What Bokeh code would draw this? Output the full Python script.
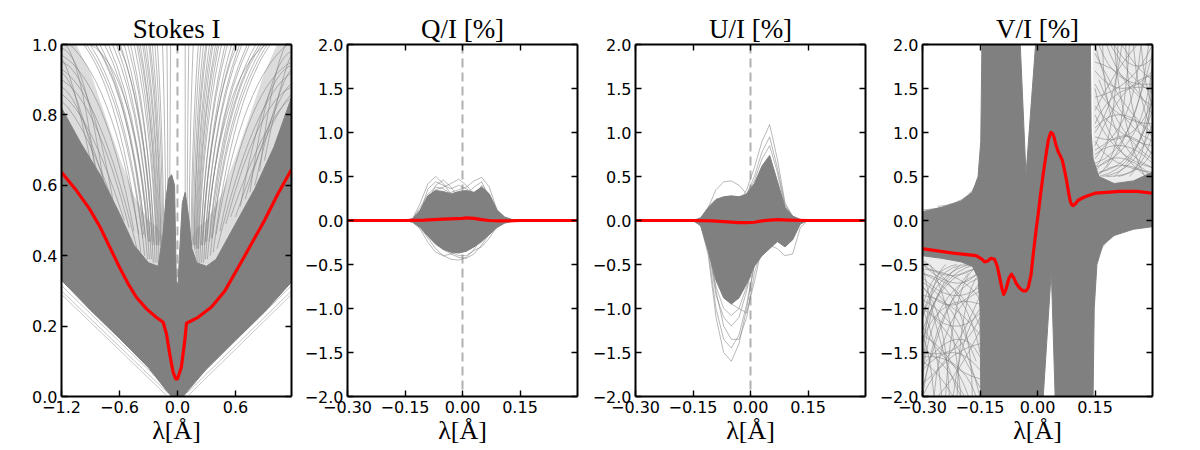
from bokeh.plotting import figure
from bokeh.layouts import row
from bokeh.models import FixedTicker, LinearAxis, CustomJSTickFormatter, Range1d, Span
from bokeh.embed import file_html
from bokeh.resources import INLINE

# ---------------- data ----------------
titles = ["Stokes I", "Q/I [%]", "U/I [%]", "V/I [%]"]
xlabel = "λ[Å]"

i_xticks = [-1.2, -0.6, 0.0, 0.6]
i_yticks = [0.0, 0.2, 0.4, 0.6, 0.8, 1.0]
p_xticks = [-0.30, -0.15, 0.0, 0.15]
p_yticks = [-2.0, -1.5, -1.0, -0.5, 0.0, 0.5, 1.0, 1.5, 2.0]

# Stokes I : mean profile (red)
i_red_x = [-1.2, -1.045, -0.91, -0.80, -0.70, -0.60, -0.51, -0.425, -0.32, -0.22, -0.148, -0.114,
           -0.08, -0.045, -0.018, 0.0, 0.04, 0.076, 0.093, 0.214, 0.352, 0.49, 0.63, 0.766,
           0.90, 1.04, 1.18]
i_red_y = [0.637, 0.585, 0.533, 0.481, 0.424, 0.367, 0.32, 0.282, 0.249, 0.225, 0.211, 0.178,
           0.121, 0.069, 0.05, 0.05, 0.083, 0.159, 0.208, 0.225, 0.254, 0.30, 0.367, 0.434,
           0.50, 0.576, 0.645]
# Stokes I : dense envelope of all profiles
i_up_x = [-1.2, -1.0, -0.8, -0.6, -0.45, -0.3, -0.2, -0.15, -0.12, -0.09, -0.06, -0.03, -0.012,
          0.005, 0.02, 0.05, 0.08, 0.12, 0.15, 0.2, 0.3, 0.4, 0.6, 0.8, 1.0, 1.18]
i_up_y = [0.82, 0.72, 0.63, 0.52, 0.43, 0.38, 0.37, 0.46, 0.56, 0.62, 0.63, 0.60, 0.33,
          0.31, 0.40, 0.55, 0.58, 0.50, 0.42, 0.38, 0.37, 0.39, 0.49, 0.59, 0.71, 0.85]
i_lo_x = [-1.2, -0.9, -0.6, -0.3, -0.114, -0.06, 0.0, 0.06, 0.11, 0.3, 0.6, 0.9, 1.18]
i_lo_y = [0.33, 0.245, 0.165, 0.082, 0.017, 0.0, 0.0, 0.0, 0.017, 0.078, 0.16, 0.24, 0.325]
# Stokes I : zones where the faint profiles crowd (left, right)
i_halo_x = [[-1.2, -1.2, -1.05, -0.9, -0.75, -0.6, -0.45, -0.3, -0.2, -0.15, -0.2, -0.3, -0.45, -0.6, -0.8, -1.0],
            [1.18, 1.18, 1.03, 0.9, 0.75, 0.6, 0.45, 0.3, 0.2, 0.15, 0.2, 0.3, 0.45, 0.6, 0.8, 1.0]]
i_halo_y = [[0.82, 1.0, 1.0, 0.92, 0.8, 0.68, 0.57, 0.5, 0.48, 0.45, 0.37, 0.38, 0.43, 0.52, 0.63, 0.72],
            [0.85, 1.0, 1.0, 0.92, 0.8, 0.68, 0.57, 0.5, 0.48, 0.45, 0.38, 0.37, 0.39, 0.49, 0.59, 0.71]]
# Stokes I : individual faint profile wings (start, end, control point)
i_fan_x0 = [-0.45, -0.40, -0.36, -0.33, -0.30, -0.28, -0.26, -0.24, -0.22, -0.20, -0.18, -0.16,
            -0.14, -0.12, -0.10, -0.08, -0.50, -0.55, -0.25, -0.21, -0.19, -0.29, -0.35, -0.17,
            -0.42, -0.38, -0.34, -0.31, -0.29, -0.27, -0.25, -0.23, -0.21, -0.19, -0.17, -0.15,
            -0.60, -0.70, -0.80, -0.90, -0.65, -0.75, -0.85,
            0.44, 0.40, 0.36, 0.33, 0.30, 0.28, 0.26, 0.24, 0.22, 0.20, 0.18, 0.16,
            0.14, 0.12, 0.10, 0.08, 0.50, 0.55, 0.25, 0.21, 0.19, 0.29, 0.35, 0.17,
            0.41, 0.37, 0.34, 0.31, 0.29, 0.27, 0.25, 0.23, 0.21, 0.19, 0.17, 0.15,
            0.60, 0.70, 0.80, 0.90, 0.65, 0.75, 0.85]
i_fan_y0 = [0.47, 0.46, 0.45, 0.45, 0.44, 0.44, 0.43, 0.43, 0.43, 0.43, 0.43, 0.43,
            0.45, 0.50, 0.55, 0.60, 0.48, 0.50, 0.44, 0.43, 0.44, 0.44, 0.46, 0.44,
            0.42, 0.41, 0.40, 0.39, 0.39, 0.39, 0.38, 0.38, 0.38, 0.38, 0.40, 0.42,
            0.50, 0.55, 0.60, 0.67, 0.53, 0.58, 0.64,
            0.47, 0.46, 0.45, 0.44, 0.44, 0.43, 0.43, 0.43, 0.42, 0.42, 0.42, 0.43,
            0.45, 0.48, 0.52, 0.56, 0.49, 0.51, 0.43, 0.42, 0.43, 0.44, 0.45, 0.43,
            0.42, 0.41, 0.40, 0.39, 0.39, 0.38, 0.38, 0.38, 0.38, 0.38, 0.40, 0.42,
            0.51, 0.56, 0.60, 0.67, 0.54, 0.58, 0.64]
i_fan_x1 = [-1.2, -1.2, -1.1, -0.98, -0.86, -0.76, -0.66, -0.57, -0.49, -0.42, -0.35, -0.28,
            -0.22, -0.16, -0.11, -0.07, -1.2, -1.2, -0.70, -0.45, -0.38, -0.90, -1.02, -0.31,
            -1.2, -1.15, -1.05, -0.92, -0.81, -0.71, -0.61, -0.53, -0.46, -0.39, -0.32, -0.25,
            -1.2, -1.2, -1.2, -1.2, -1.2, -1.2, -1.2,
            1.18, 1.18, 1.08, 0.97, 0.85, 0.75, 0.66, 0.57, 0.50, 0.43, 0.36, 0.29,
            0.23, 0.17, 0.12, 0.08, 1.18, 1.18, 0.71, 0.46, 0.39, 0.92, 1.04, 0.32,
            1.18, 1.13, 1.04, 0.93, 0.82, 0.72, 0.62, 0.54, 0.47, 0.40, 0.33, 0.26,
            1.18, 1.18, 1.18, 1.18, 1.18, 1.18, 1.18]
i_fan_y1 = [0.97, 1.02, 1.05, 1.05, 1.05, 1.05, 1.05, 1.05, 1.05, 1.05, 1.05, 1.05,
            1.05, 1.05, 1.05, 1.05, 0.90, 0.86, 1.05, 1.05, 1.05, 1.00, 1.05, 1.05,
            0.93, 1.05, 1.05, 1.05, 1.05, 1.05, 1.05, 1.05, 1.05, 1.05, 1.05, 1.05,
            0.84, 0.88, 0.92, 0.96, 0.95, 0.99, 1.01,
            0.95, 1.01, 1.05, 1.05, 1.05, 1.05, 1.05, 1.05, 1.05, 1.05, 1.05, 1.05,
            1.05, 1.05, 1.05, 1.05, 0.88, 0.85, 1.05, 1.05, 1.05, 1.00, 1.05, 1.05,
            0.92, 1.05, 1.05, 1.05, 1.05, 1.05, 1.05, 1.05, 1.05, 1.05, 1.05, 1.05,
            0.86, 0.89, 0.93, 0.97, 0.94, 0.98, 1.02]
i_fan_cx = [-0.75, -0.68, -0.58, -0.50, -0.44, -0.38, -0.34, -0.30, -0.27, -0.24, -0.21, -0.18,
            -0.155, -0.13, -0.10, -0.075, -0.85, -0.90, -0.36, -0.25, -0.22, -0.45, -0.52, -0.20,
            -0.80, -0.62, -0.52, -0.46, -0.40, -0.36, -0.32, -0.29, -0.25, -0.22, -0.19, -0.16,
            -0.95, -1.00, -1.05, -1.10, -0.90, -0.95, -1.02,
            0.74, 0.67, 0.57, 0.49, 0.43, 0.38, 0.34, 0.30, 0.27, 0.24, 0.21, 0.18,
            0.155, 0.13, 0.105, 0.08, 0.84, 0.90, 0.36, 0.25, 0.22, 0.46, 0.53, 0.20,
            0.79, 0.61, 0.52, 0.45, 0.40, 0.36, 0.32, 0.29, 0.25, 0.22, 0.19, 0.16,
            0.95, 1.00, 1.04, 1.09, 0.90, 0.95, 1.01]
i_fan_cy = [0.90, 0.92, 0.92, 0.90, 0.88, 0.86, 0.84, 0.82, 0.80, 0.80, 0.80, 0.80,
            0.80, 0.80, 0.80, 0.80, 0.85, 0.80, 0.90, 0.85, 0.84, 0.93, 0.95, 0.86,
            0.86, 0.95, 0.90, 0.88, 0.86, 0.85, 0.82, 0.80, 0.80, 0.78, 0.78, 0.78,
            0.78, 0.85, 0.90, 0.93, 0.93, 0.97, 0.99,
            0.89, 0.91, 0.91, 0.89, 0.87, 0.85, 0.83, 0.81, 0.80, 0.80, 0.80, 0.80,
            0.80, 0.80, 0.80, 0.80, 0.84, 0.79, 0.89, 0.84, 0.83, 0.92, 0.94, 0.85,
            0.85, 0.94, 0.90, 0.88, 0.86, 0.84, 0.82, 0.80, 0.79, 0.78, 0.78, 0.78,
            0.79, 0.85, 0.89, 0.93, 0.92, 0.96, 0.99]
# Stokes I : faint lower-wing profiles
i_low_x0 = [-1.2, -1.2, -1.2, 1.18, 1.18, 1.18]
i_low_y0 = [0.29, 0.30, 0.315, 0.29, 0.30, 0.315]
i_low_x1 = [-0.12, -0.10, -0.09, 0.12, 0.10, 0.09]
i_low_y1 = [0.005, 0.01, 0.02, 0.005, 0.01, 0.02]

# common wavelength grid for Q, U profiles
pol_x = [-0.15, -0.13, -0.11, -0.09, -0.07, -0.05, -0.03, -0.01, 0.01, 0.03, 0.05, 0.07,
         0.09, 0.11, 0.13, 0.15]

# Q/I
q_red_x = [-0.3, -0.15, -0.1, -0.05, 0.0, 0.01, 0.03, 0.05, 0.07, 0.1, 0.15, 0.3]
q_red_y = [0.0, 0.0, 0.005, 0.015, 0.025, 0.03, 0.025, 0.01, 0.0, -0.005, 0.0, 0.0]
q_up = [0.0, 0.02, 0.12, 0.28, 0.34, 0.33, 0.30, 0.33, 0.34, 0.32, 0.38, 0.30, 0.12, 0.04, 0.01, 0.0]
q_lo = [0.0, -0.02, -0.08, -0.18, -0.27, -0.33, -0.36, -0.37, -0.35, -0.30, -0.24, -0.16, -0.08, -0.03, -0.01, 0.0]
q_lines = [
    [0, 0.02, 0.20, 0.42, 0.50, 0.42, 0.30, 0.28, 0.25, 0.20, 0.15, 0.08, 0.03, 0.01, 0, 0],
    [0, 0.01, 0.12, 0.28, 0.35, 0.38, 0.42, 0.47, 0.40, 0.30, 0.22, 0.12, 0.04, 0.01, 0, 0],
    [0, 0.01, 0.08, 0.18, 0.25, 0.30, 0.32, 0.35, 0.38, 0.45, 0.49, 0.38, 0.12, 0.02, 0, 0],
    [0, 0.02, 0.15, 0.30, 0.38, 0.36, 0.30, 0.20, 0.15, 0.25, 0.40, 0.30, 0.10, 0.02, 0, 0],
    [0, 0.01, 0.10, 0.36, 0.44, 0.40, 0.36, 0.40, 0.36, 0.30, 0.34, 0.22, 0.06, 0.01, 0, 0],
    [0, 0.01, 0.06, 0.22, 0.40, 0.46, 0.38, 0.25, 0.30, 0.38, 0.44, 0.26, 0.08, 0.01, 0, 0],
    [0, -0.01, -0.08, -0.20, -0.32, -0.40, -0.44, -0.45, -0.42, -0.33, -0.20, -0.10, -0.03, -0.01, 0, 0],
    [0, -0.01, -0.06, -0.15, -0.25, -0.33, -0.38, -0.42, -0.43, -0.38, -0.28, -0.15, -0.05, -0.01, 0, 0],
    [0, -0.02, -0.10, -0.25, -0.36, -0.40, -0.38, -0.35, -0.30, -0.26, -0.20, -0.10, -0.04, -0.01, 0, 0],
    [0, -0.01, -0.05, -0.12, -0.22, -0.30, -0.36, -0.40, -0.40, -0.34, -0.30, -0.20, -0.06, -0.01, 0, 0],
]

# U/I
u_red_x = [-0.3, -0.15, -0.1, -0.06, -0.03, -0.01, 0.01, 0.03, 0.05, 0.07, 0.1, 0.15, 0.3]
u_red_y = [0.0, 0.0, -0.005, -0.015, -0.025, -0.025, -0.02, -0.005, 0.005, 0.01, 0.005, 0.0, 0.0]
u_up = [0.0, 0.03, 0.15, 0.24, 0.27, 0.28, 0.27, 0.30, 0.42, 0.62, 0.74, 0.45, 0.15, 0.05, 0.01, 0.0]
u_lo = [0.0, -0.06, -0.35, -0.68, -0.88, -0.95, -0.88, -0.72, -0.52, -0.40, -0.32, -0.24, -0.30, -0.22, -0.04, 0.0]
u_lines = [
    [0, 0, 0.02, 0.05, 0.10, 0.15, 0.20, 0.35, 0.60, 0.90, 1.09, 0.70, 0.20, 0.05, 0.01, 0],
    [0, 0, 0.03, 0.08, 0.12, 0.15, 0.18, 0.30, 0.50, 0.78, 0.95, 0.60, 0.18, 0.04, 0, 0],
    [0, 0, 0.02, 0.06, 0.10, 0.12, 0.20, 0.30, 0.45, 0.70, 0.85, 0.55, 0.15, 0.03, 0, 0],
    [0, 0.02, 0.15, 0.35, 0.44, 0.45, 0.40, 0.30, 0.20, 0.15, 0.10, 0.05, 0.02, 0, 0, 0],
    [0, -0.05, -0.40, -1.10, -1.50, -1.60, -1.40, -1.00, -0.50, -0.20, -0.05, 0.0, -0.02, 0, 0, 0],
    [0, -0.04, -0.35, -1.00, -1.35, -1.45, -1.30, -0.95, -0.50, -0.20, -0.08, -0.03, -0.01, 0, 0, 0],
    [0, -0.02, -0.25, -0.80, -1.20, -1.35, -1.35, -1.10, -0.60, -0.30, -0.10, -0.05, 0, 0, 0, 0],
    [0, -0.03, -0.30, -0.85, -1.10, -1.20, -1.10, -0.80, -0.40, -0.20, -0.10, -0.05, -0.01, 0, 0, 0],
    [0, -0.02, -0.20, -0.60, -0.85, -0.95, -1.00, -1.05, -0.70, -0.30, -0.10, 0, 0, 0, 0, 0],
    [0, 0, -0.05, -0.20, -0.35, -0.40, -0.35, -0.30, -0.25, -0.25, -0.28, -0.32, -0.40, -0.38, -0.08, 0],
    [0, -0.03, -0.28, -0.75, -1.00, -1.08, -1.00, -0.75, -0.45, -0.25, -0.10, -0.04, 0, 0, 0, 0],
]

# V/I
v_red_x = [-0.302, -0.22, -0.16, -0.145, -0.138, -0.13, -0.122, -0.112, -0.105, -0.099, -0.093,
           -0.088, -0.082, -0.075, -0.068, -0.062, -0.055, -0.046, -0.037, -0.03, -0.024, -0.017,
           -0.011, -0.004, 0.002, 0.008, 0.015, 0.022, 0.028, 0.032, 0.035, 0.039, 0.043, 0.048,
           0.054, 0.06, 0.065, 0.07, 0.076, 0.081, 0.085, 0.089, 0.093, 0.099, 0.106, 0.115,
           0.124, 0.137, 0.15, 0.18, 0.215, 0.26, 0.30]
v_red_y = [-0.32, -0.37, -0.40, -0.44, -0.47, -0.46, -0.43, -0.44, -0.52, -0.64, -0.77,
           -0.84, -0.78, -0.66, -0.61, -0.65, -0.72, -0.77, -0.80, -0.80, -0.76, -0.62,
           -0.38, -0.12, 0.08, 0.30, 0.53, 0.74, 0.91, 0.97, 1.0, 0.99, 0.95, 0.86,
           0.78, 0.73, 0.68, 0.58, 0.45, 0.32, 0.23, 0.18, 0.17, 0.19, 0.23, 0.25,
           0.27, 0.29, 0.31, 0.32, 0.33, 0.33, 0.31]
# outline of the solid grey area (left band, two columns, right band)
v_env_x = [-0.3, -0.25, -0.2, -0.17, -0.155, -0.148, -0.145, -0.045, -0.03, -0.005, 0.138, 0.14,
           0.145, 0.16, 0.2, 0.25, 0.3, 0.3, 0.25, 0.2, 0.17, 0.155, 0.148, 0.145, 0.046, 0.036,
           0.015, -0.148, -0.15, -0.155, -0.17, -0.2, -0.25, -0.3]
v_env_y = [0.10, 0.15, 0.22, 0.32, 0.50, 0.90, 2.0, 2.0, 0.52, 2.0, 2.0, 1.0,
           0.7, 0.5, 0.42, 0.45, 0.55, -0.07, -0.10, -0.17, -0.28, -0.50, -1.0, -2.0, -2.0, -0.57,
           -2.0, -2.0, -1.0, -0.65, -0.52, -0.47, -0.43, -0.40]
# zones where the far-wing profiles cross (upper right, lower left)
v_halo_x = [[0.145, 0.3, 0.3, 0.25, 0.2, 0.16, 0.145], [-0.3, -0.148, -0.15, -0.17, -0.2, -0.25, -0.3]]
v_halo_y = [[2.0, 2.0, 0.55, 0.45, 0.42, 0.5, 0.7], [-2.0, -2.0, -0.65, -0.52, -0.47, -0.43, -0.4]]
# far-wing profiles (start, end, control): upper right and lower left meshes + band fringes
v_x0 = [0.15, 0.16, 0.15, 0.18, 0.22, 0.15, 0.15, 0.16, 0.15, 0.17, 0.15, 0.15, 0.20, 0.15,
        0.15, 0.20, 0.25, 0.15, 0.15, 0.17, 0.24, 0.15, 0.15, 0.18,
        0.15, 0.15, 0.16, 0.15, 0.19, 0.15, 0.15, 0.21, 0.15, 0.15, 0.23, 0.16, 0.15, 0.27,
        0.15, 0.18, 0.15, 0.15, 0.20, 0.15,
        -0.3, -0.3, -0.3, -0.3, -0.3, -0.3, -0.27, -0.3, -0.22, -0.3, -0.3, -0.3, -0.3, -0.3,
        -0.3, -0.28, -0.3, -0.3, -0.3, -0.3, -0.3, -0.3, -0.24, -0.3,
        -0.3, -0.3, -0.3, -0.3, -0.3, -0.3, -0.3, -0.3, -0.26, -0.3, -0.3, -0.3, -0.21, -0.3,
        -0.3, -0.3, -0.3, -0.3, -0.3, -0.3,
        -0.3, -0.3, -0.26, 0.3, 0.3, 0.26]
v_y0 = [2.0, 1.6, 1.2, 2.0, 2.0, 0.6, 0.8, 0.5, 1.0, 0.5, 1.4, 1.8, 0.5, 0.55,
        0.7, 2.0, 2.0, 0.9, 1.1, 2.0, 0.5, 1.5, 0.5, 0.6,
        1.9, 1.3, 0.55, 0.65, 2.0, 1.7, 0.95, 0.5, 1.25, 0.75, 2.0, 2.0, 0.6, 2.0,
        1.05, 0.5, 1.55, 0.85, 2.0, 0.5,
        -0.9, -0.7, -0.6, -1.3, -1.6, -1.8, -2.0, -1.4, -2.0, -1.1, -2.0, -1.2, -2.0, -0.5,
        -0.75, -0.5, -1.0, -0.55, -1.5, -0.6, -1.7, -0.45, -2.0, -1.9,
        -1.0, -0.85, -1.25, -2.0, -1.45, -1.7, -1.35, -1.0, -2.0, -0.65, -0.75, -1.55, -2.0, -1.3,
        -0.95, -1.1, -1.65, -1.85, -0.5, -0.5,
        0.12, 0.06, 0.16, -0.02, 0.03, -0.08]
v_x1 = [0.3, 0.3, 0.3, 0.3, 0.3, 0.3, 0.27, 0.3, 0.22, 0.3, 0.3, 0.3, 0.3, 0.3,
        0.3, 0.28, 0.3, 0.3, 0.3, 0.3, 0.3, 0.3, 0.24, 0.3,
        0.3, 0.3, 0.3, 0.29, 0.3, 0.3, 0.3, 0.3, 0.26, 0.3, 0.3, 0.3, 0.21, 0.3,
        0.3, 0.3, 0.3, 0.3, 0.3, 0.3,
        -0.15, -0.16, -0.15, -0.18, -0.22, -0.15, -0.15, -0.16, -0.15, -0.17, -0.15, -0.15, -0.2, -0.15,
        -0.15, -0.2, -0.25, -0.15, -0.15, -0.17, -0.24, -0.15, -0.15, -0.18,
        -0.15, -0.15, -0.16, -0.15, -0.19, -0.15, -0.15, -0.21, -0.15, -0.15, -0.23, -0.16, -0.15, -0.27,
        -0.15, -0.18, -0.15, -0.15, -0.20, -0.15,
        -0.15, -0.155, -0.15, 0.15, 0.152, 0.15]
v_y1 = [0.9, 0.7, 0.6, 1.3, 1.6, 1.8, 2.0, 1.4, 2.0, 1.1, 2.0, 1.2, 2.0, 0.5,
        0.75, 0.5, 1.0, 0.55, 1.5, 0.6, 1.7, 0.45, 2.0, 1.9,
        1.0, 0.85, 1.25, 2.0, 1.45, 1.7, 1.35, 1.0, 2.0, 0.65, 0.75, 1.55, 2.0, 1.3,
        0.95, 0.8, 1.1, 1.65, 1.85, 0.5,
        -2.0, -1.6, -1.2, -2.0, -2.0, -0.6, -0.8, -0.5, -1.0, -0.5, -1.4, -1.8, -0.5, -0.55,
        -0.7, -2.0, -2.0, -0.9, -1.1, -2.0, -0.5, -1.5, -0.5, -0.6,
        -1.9, -1.3, -0.55, -0.65, -2.0, -1.7, -0.95, -0.5, -1.25, -0.75, -2.0, -2.0, -0.6, -2.0,
        -1.05, -0.5, -1.55, -0.85, -2.0, -0.5,
        0.50, 0.45, 0.58, -0.50, -0.42, -0.60]
v_cx = [0.2, 0.22, 0.2, 0.22, 0.26, 0.28, 0.25, 0.27, 0.2, 0.26, 0.25, 0.24, 0.3, 0.2,
        0.22, 0.22, 0.26, 0.19, 0.2, 0.17, 0.29, 0.18, 0.22, 0.24,
        0.23, 0.22, 0.25, 0.26, 0.24, 0.22, 0.25, 0.28, 0.2, 0.22, 0.24, 0.2, 0.2, 0.28,
        0.22, 0.27, 0.2, 0.22, 0.25, 0.22,
        -0.2, -0.22, -0.2, -0.22, -0.26, -0.28, -0.25, -0.27, -0.2, -0.26, -0.25, -0.24, -0.3, -0.2,
        -0.22, -0.22, -0.26, -0.19, -0.2, -0.17, -0.29, -0.18, -0.22, -0.24,
        -0.23, -0.22, -0.25, -0.26, -0.24, -0.22, -0.25, -0.28, -0.2, -0.22, -0.24, -0.2, -0.2, -0.28,
        -0.22, -0.27, -0.2, -0.22, -0.25, -0.22,
        -0.17, -0.18, -0.16, 0.17, 0.18, 0.16]
v_cy = [1.1, 0.9, 0.7, 1.5, 1.7, 0.8, 1.0, 0.6, 1.3, 0.55, 1.5, 1.7, 0.8, 0.9,
        1.2, 1.0, 1.4, 0.6, 1.6, 0.8, 0.7, 0.8, 0.6, 0.9,
        1.2, 0.9, 0.6, 0.8, 1.6, 1.3, 0.8, 0.55, 1.7, 1.0, 1.0, 1.5, 0.8, 1.5,
        1.4, 0.5, 1.1, 1.6, 1.6, 0.75,
        -1.1, -0.9, -0.7, -1.5, -1.7, -0.8, -1.0, -0.6, -1.3, -0.55, -1.5, -1.7, -0.8, -0.9,
        -1.2, -1.0, -1.4, -0.6, -1.6, -0.8, -0.7, -0.8, -0.6, -0.9,
        -1.2, -0.9, -0.6, -0.8, -1.6, -1.3, -0.8, -0.55, -1.7, -1.0, -1.0, -1.5, -0.8, -1.5,
        -1.4, -0.5, -1.1, -1.6, -1.6, -0.75,
        0.15, 0.10, 0.20, -0.05, -0.02, -0.12]

# ---------------- styling ----------------
GREY = "#808080"
RED = "#ff0000"
SERIF = "Liberation Serif"
SANS = "DejaVu Sans"
FRAME_W, FRAME_H = 230, 352


def fmt(nd):
    return CustomJSTickFormatter(code="return tick.toFixed(%d).replace('-', '\u2212');" % nd)


def make_fig(title, xr, yr, xticks, yticks, xnd, left, right):
    p = figure(frame_width=FRAME_W, frame_height=FRAME_H,
               x_range=Range1d(*xr), y_range=Range1d(*yr),
               output_backend="svg", toolbar_location=None,
               min_border_left=left, min_border_right=right,
               min_border_top=44, min_border_bottom=54,
               title=title, x_axis_location=None, y_axis_location=None)
    p.title.text_font = SERIF
    p.title.text_font_size = "27px"
    p.title.text_font_style = "normal"
    p.title.align = "center"
    p.title.text_color = "#000000"
    p.title.standoff = 2
    p.outline_line_color = None
    p.grid.visible = False
    p.background_fill_color = "white"
    p.border_fill_color = "white"

    def style(ax, labels):
        ax.axis_line_color = "black"
        ax.axis_line_width = 2
        ax.major_tick_in = 6
        ax.major_tick_out = 0
        ax.major_tick_line_color = "black"
        ax.major_tick_line_width = 1.4
        ax.minor_tick_line_color = None
        if labels:
            ax.major_label_text_font = SANS
            ax.major_label_text_font_size = "16px"
            ax.major_label_text_color = "black"
            ax.major_label_standoff = 4
        else:
            ax.major_label_text_font_size = "0px"
            ax.major_label_standoff = 0

    bx = LinearAxis(ticker=FixedTicker(ticks=xticks), formatter=fmt(xnd),
                    axis_label=xlabel)
    style(bx, True)
    bx.axis_label_text_font = SERIF
    bx.axis_label_text_font_size = "26px"
    bx.axis_label_text_font_style = "normal"
    bx.axis_label_text_color = "black"
    bx.axis_label_standoff = 0
    p.add_layout(bx, "below")
    ly = LinearAxis(ticker=FixedTicker(ticks=yticks), formatter=fmt(1))
    style(ly, True)
    p.add_layout(ly, "left")
    tx = LinearAxis(ticker=FixedTicker(ticks=xticks))
    style(tx, False)
    p.add_layout(tx, "above")
    ry = LinearAxis(ticker=FixedTicker(ticks=yticks))
    style(ry, False)
    p.add_layout(ry, "right")

    p.add_layout(Span(location=0, dimension="height", line_color="#b0b0b0",
                      line_width=2, line_dash="9 5", level="underlay"))
    return p


# ---- Panel 1: Stokes I
p1 = make_fig(titles[0], (-1.2, 1.18), (0.0, 1.0), i_xticks, i_yticks, 1, 61, 6)
p1.patches(i_halo_x, i_halo_y, fill_color=GREY, fill_alpha=0.28, line_color=None)
p1.quadratic(x0=i_fan_x0, y0=i_fan_y0, x1=i_fan_x1, y1=i_fan_y1, cx=i_fan_cx, cy=i_fan_cy,
             line_color=GREY, line_alpha=0.55, line_width=1)
p1.segment(x0=i_low_x0, y0=i_low_y0, x1=i_low_x1, y1=i_low_y1,
           line_color=GREY, line_alpha=0.45, line_width=1)
p1.patch(i_up_x + i_lo_x[::-1], i_up_y + i_lo_y[::-1],
         fill_color=GREY, line_color=GREY, line_width=1)
p1.line(i_red_x, i_red_y, line_color=RED, line_width=3.2, line_join="round")

# ---- Panel 2: Q/I
p2 = make_fig(titles[1], (-0.3, 0.3), (-2.0, 2.0), p_xticks, p_yticks, 2, 50, 6)
p2.multi_line([pol_x] * len(q_lines), q_lines, line_color=GREY, line_alpha=0.55, line_width=1)
p2.patch(pol_x + pol_x[::-1], q_up + q_lo[::-1], fill_color=GREY, line_color=GREY, line_width=1)
p2.line(q_red_x, q_red_y, line_color=RED, line_width=3.2, line_join="round")

# ---- Panel 3: U/I
p3 = make_fig(titles[2], (-0.3, 0.3), (-2.0, 2.0), p_xticks, p_yticks, 2, 52, 6)
p3.multi_line([pol_x] * len(u_lines), u_lines, line_color=GREY, line_alpha=0.55, line_width=1)
p3.patch(pol_x + pol_x[::-1], u_up + u_lo[::-1], fill_color=GREY, line_color=GREY, line_width=1)
p3.line(u_red_x, u_red_y, line_color=RED, line_width=3.2, line_join="round")

# ---- Panel 4: V/I
p4 = make_fig(titles[3], (-0.3, 0.3), (-2.0, 2.0), p_xticks, p_yticks, 2, 51, 8)
p4.patches(v_halo_x, v_halo_y, fill_color=GREY, fill_alpha=0.15, line_color=None)
p4.quadratic(x0=v_x0, y0=v_y0, x1=v_x1, y1=v_y1, cx=v_cx, cy=v_cy,
             line_color=GREY, line_alpha=0.55, line_width=1)
p4.patch(v_env_x, v_env_y, fill_color=GREY, line_color=GREY, line_width=1)
p4.line(v_red_x, v_red_y, line_color=RED, line_width=3.2, line_join="round")

layout = row(p1, p2, p3, p4, spacing=0)
open("out.html", "w").write(file_html(layout, INLINE))
